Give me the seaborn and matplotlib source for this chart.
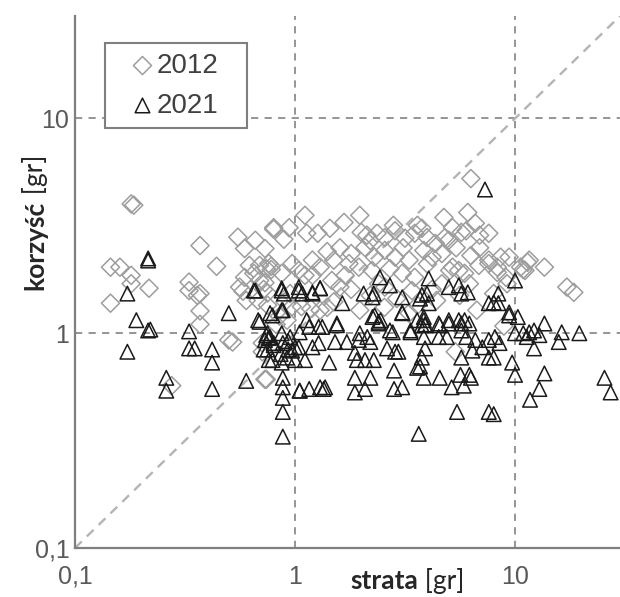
import numpy as np
import pandas as pd
import matplotlib
matplotlib.use("Agg")
import matplotlib.pyplot as plt
import seaborn as sns
from matplotlib.ticker import FixedLocator, FuncFormatter, LogLocator, NullFormatter

# ---------- data -----------------------------------------------------------
x_2012 = [0.18, 0.185, 0.145, 0.16, 0.18, 0.18, 0.217, 0.145, 0.37, 0.44, 0.33, 0.33, 0.37, 0.36,
          0.37, 0.37, 0.275, 0.5, 0.74,
          1.11, 1.67, 0.55, 0.66, 0.8, 0.8, 0.94, 0.89, 1.13, 1.27, 1.44, 0.59, 0.73, 0.62, 0.69,
          0.76, 0.78, 0.74, 0.78, 0.97, 1.04, 1.2, 1.3, 1.5, 1.76, 0.59, 0.65, 0.69, 0.73, 0.87,
          1.11, 1.2, 1.47, 1.69, 0.56, 0.58, 0.72, 0.75, 0.95, 1.6,
          0.6, 0.68, 0.75, 0.9, 0.97, 1.07, 1.18, 1.3, 1.5, 0.52, 0.73, 0.71, 0.71, 0.85, 0.82,
          0.92, 1.4,
          6.3, 1.97, 4.75, 6.1, 2.8, 3.6, 3.77, 5.2, 5.7, 6.0, 6.6, 6.9, 7.6, 2.0, 2.12, 2.36,
          2.56, 2.85, 3.16, 3.5, 3.98, 4.34, 4.8, 3.85, 4.2, 4.65, 5.0, 3.3, 2.56, 2.08, 2.3,
          2.85, 1.95, 2.24, 2.7, 3.07, 3.5, 5.2, 5.55, 5.9, 6.85, 7.6, 4.65, 2.56, 3.4, 6.9,
          8.6, 9.4, 11.4, 10.6, 10.9, 11.1, 13.6, 17.2, 18.5, 7.6, 8.3, 9.1, 8.3, 11.6, 5.35,
          8.9, 1.97, 2.55, 3.3, 4.4, 5.05, 6.7, 8.0, 9.2,
          2.2, 2.9, 3.6, 4.2, 5.6, 6.2, 1.8, 2.4, 1.6, 1.4, 1.8, 2.2, 3.1, 4.0, 5.4, 6.3]
y_2012 = [4.0, 3.95, 2.03, 2.03, 1.86, 1.7, 1.62, 1.38, 2.56, 2.05, 1.73, 1.58, 1.53, 1.5,
          1.27, 1.1, 0.57, 0.93, 0.61,
          3.54, 3.28, 2.8, 2.71, 3.1, 3.05, 3.1, 2.74, 2.92, 2.92, 3.08, 2.48, 2.48, 2.07, 2.07,
          2.11, 2.05, 2.0, 1.98, 2.11, 1.96, 2.19, 2.03, 2.19, 2.11, 1.82, 1.9, 1.76, 1.72, 1.9,
          1.86, 1.86, 1.76, 1.86, 1.64, 1.57, 1.6, 1.54, 1.53, 1.64,
          1.42, 1.42, 1.35, 1.4, 1.33, 1.33, 1.3, 1.28, 1.4, 0.91, 0.61, 0.9, 0.82, 1.2, 1.1,
          1.15, 1.32,
          5.25, 3.54, 3.46, 3.65, 3.18, 3.18, 3.08, 3.1, 2.95, 3.0, 3.25, 2.86, 2.92, 2.95, 2.86, 2.92,
          2.79, 3.0, 2.77, 2.92, 2.79, 2.62, 2.79, 2.43, 2.26, 2.35, 2.71, 2.19, 2.43, 2.51, 2.26,
          2.26, 2.03, 1.96, 2.0, 1.9, 1.82, 2.03, 1.96, 1.9, 2.07, 2.19, 1.7, 1.64, 1.58, 2.5,
          2.26, 2.26, 2.14, 2.03, 1.98, 1.96, 2.03, 1.64, 1.55, 2.11, 2.03, 1.82, 1.92, 2.19, 0.82,
          1.08, 1.28, 1.32, 1.24, 1.42, 1.96, 1.28, 1.53, 1.7,
          1.5, 1.45, 1.35, 1.6, 1.5, 1.7, 1.6, 1.7, 2.5, 2.4, 2.35, 2.7, 2.5, 2.1, 2.5, 2.3]

x_2021 = [0.215, 0.215, 0.173, 0.19, 0.215, 0.22, 0.173, 0.33, 0.33, 0.35, 0.42, 0.42, 0.26, 0.26,
          0.42, 0.5, 0.65, 0.6, 0.68, 0.77, 0.87, 0.87, 0.87, 0.88, 0.88, 0.88, 0.88, 0.88, 0.74,
          0.76, 0.72, 0.75, 0.8, 1.04, 1.05, 0.86, 0.93, 0.88, 1.0, 0.93,
          0.69, 0.79, 0.88, 0.75, 0.77, 0.73, 0.8, 0.76, 0.79, 0.87, 0.92, 0.97, 1.04, 1.0, 1.11,
          1.2, 1.28, 0.95, 1.05, 1.13, 1.16, 1.28, 1.33, 1.55, 1.52, 1.72, 1.43, 1.16, 1.05, 1.3,
          1.35, 1.37, 0.66, 0.87, 0.89, 1.04, 1.08, 1.2, 1.3,
          2.3, 2.45, 2.4, 3.07, 2.78, 1.97, 1.95, 2.13, 2.2, 1.87, 1.91, 2.08, 2.28, 2.62, 2.85,
          2.95, 2.82, 1.87, 2.2, 2.08, 1.87, 2.82, 3.07, 3.35, 3.59, 3.85, 3.77, 3.9, 3.85, 3.9,
          3.77, 3.7, 3.85, 3.59, 4.55, 5.0, 4.9, 4.5, 4.55, 5.15, 5.65, 5.85, 6.2, 6.3, 5.45, 3.65,
          5.9, 6.2, 5.7, 6.0, 6.6, 7.1, 7.6, 6.4, 5.7, 7.6, 7.6, 13.6, 16.3, 19.6, 15.8, 12.2,
          10.0, 10.9, 11.6, 12.2, 12.9, 11.3, 9.4, 10.3, 9.7, 10.0, 13.6, 12.9, 11.7, 25.5, 27.2,
          8.1, 8.5, 8.0, 8.0,
          7.3, 10.0, 2.43, 2.7, 4.05, 1.2, 1.3, 1.64, 2.05, 2.25, 3.07, 3.07, 3.7, 3.98, 4.05,
          5.0, 5.55, 5.7, 6.1, 7.6, 8.0, 8.4, 8.4, 9.4, 1.55, 2.25, 2.4, 2.7, 3.35, 3.85, 3.9,
          4.5, 5.0, 5.55, 5.7, 2.28, 3.77]
y_2021 = [2.23, 2.18, 1.53, 1.15, 1.03, 1.04, 0.82, 1.02, 0.85, 0.85, 0.84, 0.73, 0.62, 0.54,
          0.55, 1.24, 1.58, 0.6, 1.15, 1.24, 1.58, 1.28, 1.0, 0.62, 0.56, 0.5, 0.43, 0.33, 0.98,
          0.95, 0.84, 0.84, 0.88, 1.58, 0.54, 0.8, 0.84, 0.9, 0.86, 0.92,
          1.13, 1.21, 1.28, 1.0, 0.96, 0.93, 0.9, 0.75, 0.75, 0.73, 0.77, 0.83, 0.86, 0.75, 0.75,
          0.86, 0.9, 0.96, 1.01, 1.15, 1.07, 1.07, 1.07, 1.09, 0.91, 0.91, 0.73, 0.55, 0.54, 0.56,
          0.55, 0.56, 1.58, 1.62, 1.53, 1.64, 1.53, 1.53, 1.62,
          1.21, 1.15, 1.11, 1.24, 1.01, 1.0, 0.93, 0.96, 0.91, 0.81, 0.75, 0.75, 0.75, 0.85, 0.82,
          0.82, 0.67, 0.62, 0.62, 0.55, 0.53, 0.55, 0.56, 1.01, 1.15, 1.19, 1.09, 1.09, 0.96, 0.85,
          0.77, 0.7, 0.62, 0.69, 1.09, 1.11, 0.96, 0.96, 0.62, 0.56, 0.64, 0.57, 0.64, 0.62, 0.43, 0.34,
          1.15, 1.11, 1.03, 0.96, 0.93, 0.86, 0.93, 0.83, 0.77, 0.77, 0.43, 1.11, 1.01, 1.0, 0.91, 0.85,
          1.0, 1.0, 1.01, 1.03, 0.98, 0.96, 1.21, 1.19, 0.73, 0.64, 0.65, 0.55, 0.49, 0.62, 0.53,
          0.96, 0.9, 0.77, 0.42,
          4.67, 1.76, 1.82, 1.67, 1.8, 1.55, 1.62, 1.38, 1.53, 1.47, 1.47, 1.25, 1.45, 1.53, 1.38,
          1.64, 1.67, 1.53, 1.55, 1.38, 1.39, 1.53, 1.38, 1.25, 1.11, 1.19, 1.13, 1.03, 1.03, 1.15, 1.1,
          1.11, 1.15, 1.15, 1.11, 1.53, 1.51]

years = ["2012", "2021"]
axis_ticks = [0.1, 1, 10]
axis_tick_labels = ["0,1", "1", "10"]
axis_limits = (0.1, 30)
guide_values = [1, 10]

df = pd.concat([
    pd.DataFrame({"strata": x_2012, "korzysc": y_2012, "rok": years[0]}),
    pd.DataFrame({"strata": x_2021, "korzysc": y_2021, "rok": years[1]}),
], ignore_index=True)

# ---------- plot -------------------------------------------------------------
sns.set_style("white")
plt.rcParams["font.family"] = ["Liberation Sans", "DejaVu Sans"]

fig = plt.figure(figsize=(6.2, 5.97), dpi=100)
ax = fig.add_axes([75 / 620, 49 / 597, 545 / 620, 532 / 597])
ax.set_xscale("log")
ax.set_yscale("log")

for v in guide_values:
    ax.axvline(v, color="#8c8c8c", lw=1.3, ls=(0, (4, 3.5)), zorder=1)
    ax.axhline(v, color="#8c8c8c", lw=1.3, ls=(0, (4, 3.5)), zorder=1)
ax.plot(axis_limits, axis_limits, color="#b4b4b4", lw=1.7, ls=(0, (4, 3)), zorder=1)

sns.scatterplot(data=df[df["rok"] == years[0]], x="strata", y="korzysc", marker="D", s=85,
                facecolor="none", edgecolor="#9d9d9d", linewidth=1.1, label=years[0], ax=ax, zorder=2)
sns.scatterplot(data=df[df["rok"] == years[1]], x="strata", y="korzysc", marker="^", s=110,
                facecolor="none", edgecolor="#1a1a1a", linewidth=1.1, label=years[1], ax=ax, zorder=3)

ax.set_xlim(axis_limits)
ax.set_ylim(axis_limits)
ax.set_xlabel("")
ax.set_ylabel("")

lab_map = dict(zip(axis_ticks, axis_tick_labels))
for axis in (ax.xaxis, ax.yaxis):
    axis.set_major_locator(FixedLocator(axis_ticks))
    axis.set_major_formatter(FuncFormatter(lambda v, p: lab_map.get(round(v, 3), "")))
    axis.set_minor_locator(LogLocator(base=10, subs=np.arange(2, 10)))
    axis.set_minor_formatter(NullFormatter())

ax.tick_params(which="both", direction="in", color="#7f7f7f", width=1.5,
               labelsize=18, labelcolor="#595959")
ax.tick_params(which="major", length=6)
ax.tick_params(which="minor", length=5)
ax.tick_params(axis="x", pad=12)
ax.tick_params(axis="y", pad=4)

for side in ("top", "right"):
    ax.spines[side].set_visible(False)
for side in ("left", "bottom"):
    ax.spines[side].set_color("#7f7f7f")
    ax.spines[side].set_linewidth(1.6)

leg = ax.legend(loc="upper left", bbox_to_anchor=(0.055, 0.80, 0.2606, 0.149), mode="expand",
                borderaxespad=0, frameon=True, fancybox=False, framealpha=1,
                edgecolor="#7f7f7f", prop={"family": "Liberation Sans", "size": 20},
                labelcolor="#404040", handlelength=2.0, handletextpad=-0.5,
                borderpad=0.35, labelspacing=0.5, markerscale=1.0)
leg.get_frame().set_linewidth(1.5)

# axis labels with a bold first word
lab_font = dict(family=["Lato", "DejaVu Sans"], size=19, color="#262626")
fig.canvas.draw()
rend = fig.canvas.get_renderer()
W, H = fig.bbox.width, fig.bbox.height

t = fig.text(350 / W, 1 - 589 / H, "strata", weight="bold", ha="left", va="baseline", **lab_font)
bb = t.get_window_extent(rend)
fig.text(bb.x1 / W, 1 - 589 / H, " [gr]", ha="left", va="baseline", **lab_font)

t = fig.text(43 / W, 1 - 290 / H, "korzyść", weight="bold", rotation=90, rotation_mode="anchor",
             ha="left", va="baseline", **lab_font)
bb = t.get_window_extent(rend)
fig.text(43 / W, bb.y1 / H, " [gr]", rotation=90, rotation_mode="anchor",
         ha="left", va="baseline", **lab_font)

fig.savefig("out.png", dpi=100)
